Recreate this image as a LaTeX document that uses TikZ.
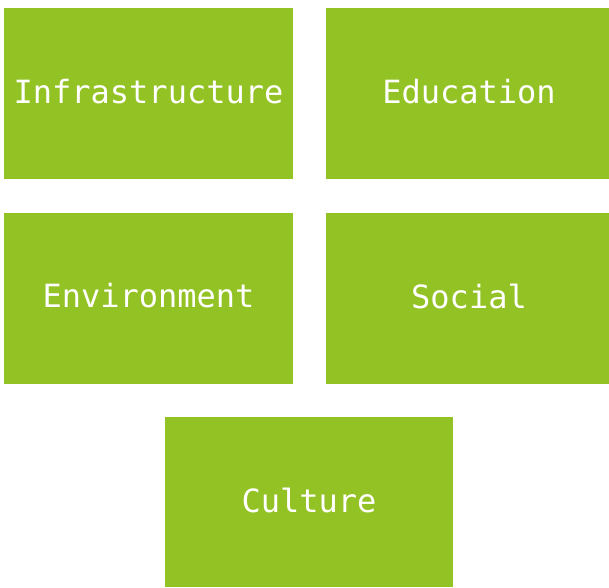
\documentclass[tikz,border=0pt]{standalone}
\usepackage{fontspec}
\newfontfamily\boxfont{DejaVu Sans Mono}
\definecolor{boxgreen}{HTML}{93C225}
\begin{document}
\begin{tikzpicture}[x=1pt,y=-1pt,
  greenbox/.style={fill=boxgreen,draw=none,text=white,inner sep=0pt,font=\boxfont\fontsize{32}{36}\selectfont}]
\useasboundingbox (0,0) rectangle (609,587);
\fill[white] (0,0) rectangle (609,587);
\fill[boxgreen] (4,8) rectangle (293,179);
\node[greenbox] (infra) at (148.5,91.5) {Infrastructure};
\fill[boxgreen] (326,8) rectangle (609,179);
\node[greenbox] (edu) at (469,91.5) {Education};
\fill[boxgreen] (4,213) rectangle (293,384);
\node[greenbox] (env) at (148.5,296) {Environment};
\fill[boxgreen] (326,213) rectangle (609,384);
\node[greenbox] (soc) at (469,296) {Social};
\fill[boxgreen] (165,417) rectangle (453,587);
\node[greenbox] (cul) at (309,500) {Culture};
\end{tikzpicture}
\end{document}
